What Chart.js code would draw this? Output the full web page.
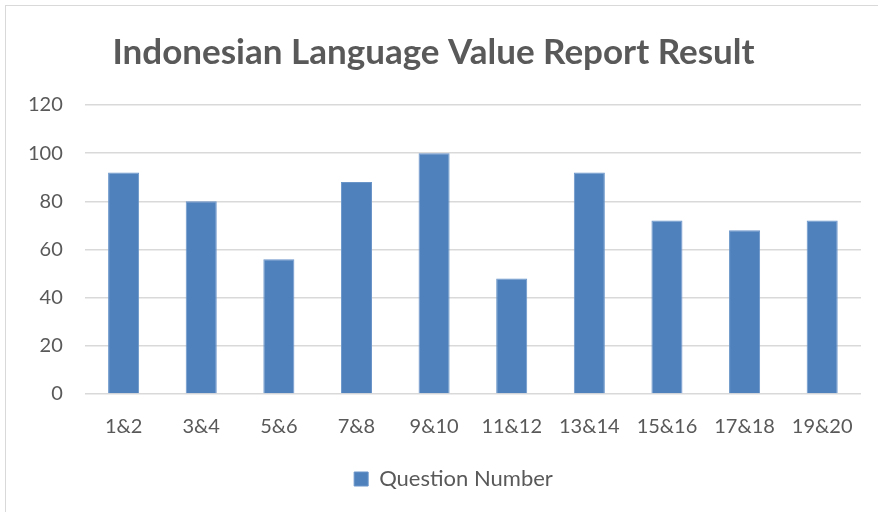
<!DOCTYPE html>
<html>
<head>
<meta charset="utf-8">
<script src="https://cdn.jsdelivr.net/npm/chart.js@4.4.0/dist/chart.umd.min.js"></script>
<style>
  html, body { margin: 0; padding: 0; background: #fff; }
  #wrap { position: relative; width: 878px; height: 512px; }
  #frame { position: absolute; left: 5px; top: 5px; width: 880px; height: 520px; border-left: 1px solid #d9d9d9; border-top: 1px solid #d9d9d9; pointer-events: none; }
  canvas { position: absolute; left: 0; top: 0; }
</style>
</head>
<body>
<div id="wrap">
  <canvas id="c" width="878" height="512"></canvas>
  <div id="frame"></div>
</div>
<script>
const categories = ["1&2", "3&4", "5&6", "7&8", "9&10", "11&12", "13&14", "15&16", "17&18", "19&20"];
const seriesName = "Question Number";
const values = [92, 80, 56, 88, 100, 48, 92, 72, 68, 72];
const titleText = "Indonesian Language Value Report Result";

const fontFam = "Lato, 'Open Sans', sans-serif";
const shiftLegend = {
  id: 'shiftLegend',
  afterLayout(chart) {
    const lg = chart.legend;
    if (lg) { lg.left += 20; lg.right += 20; }
  }
};
new Chart(document.getElementById('c'), {
  type: 'bar',
  data: {
    labels: categories,
    datasets: [{
      label: seriesName,
      data: values,
      backgroundColor: '#4f81bd',
      borderColor: '#6a95c9',
      borderWidth: 1,
      categoryPercentage: 1.0,
      barPercentage: 0.4
    }]
  },
  options: {
    responsive: false,
    animation: false,
    layout: { padding: { left: 6, right: 17, top: 21, bottom: 12 } },
    plugins: {
      title: {
        display: true,
        text: titleText,
        color: '#595959',
        font: { family: fontFam, size: 35, weight: 'bold' },
        padding: { top: 11, bottom: 31 }
      },
      legend: {
        display: true,
        position: 'bottom',
        labels: {
          color: '#595959',
          font: { family: fontFam, size: 22 },
          boxWidth: 14,
          boxHeight: 14,
          padding: 20
        }
      },
      tooltip: { enabled: false }
    },
    scales: {
      x: {
        grid: { display: false },
        border: { display: false },
        ticks: { color: '#595959', font: { family: fontFam, size: 20 }, padding: 13, maxRotation: 0 },
        afterFit: (s) => { s.height -= 4; }
      },
      y: {
        min: 0, max: 120,
        ticks: { stepSize: 20, color: '#595959', font: { family: fontFam, size: 20 }, padding: 22 },
        grid: { color: '#d9d9d9', lineWidth: 1.5, drawTicks: false },
        border: { display: false }
      }
    }
  },
  plugins: [shiftLegend]
});
</script>
</body>
</html>
